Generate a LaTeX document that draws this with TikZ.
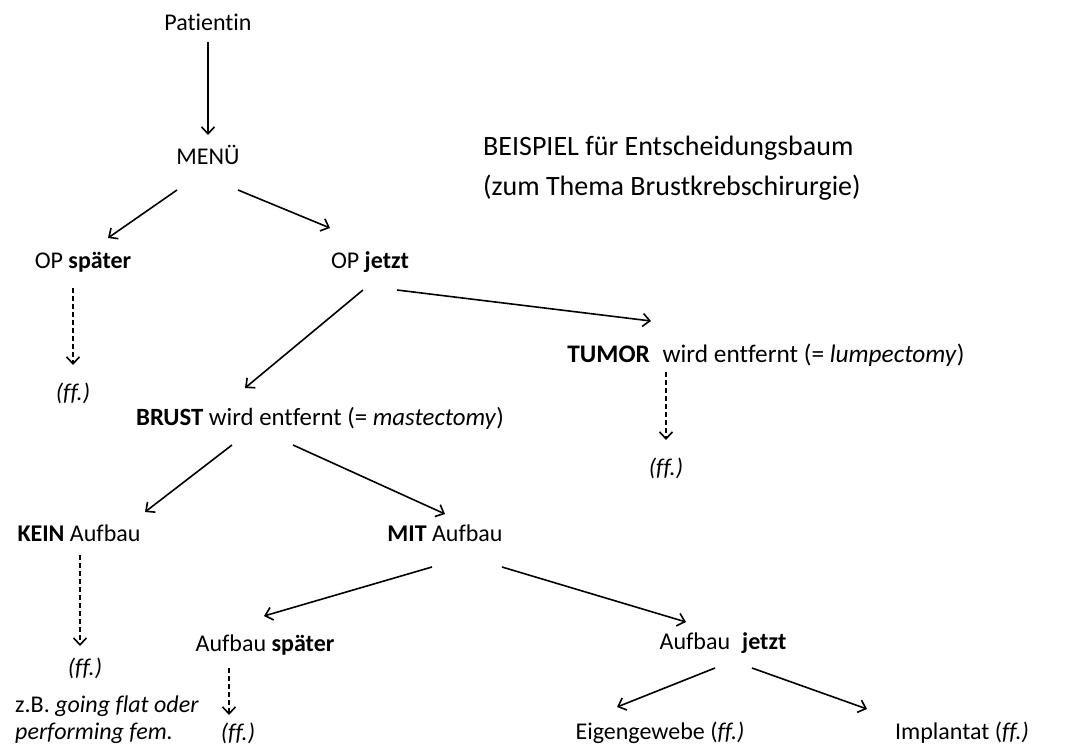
\documentclass[tikz,border=0pt]{standalone}
\usepackage{fontspec}
\setmainfont[Ligatures=NoCommon]{Carlito}
\usetikzlibrary{calc,arrows.meta}
\begin{document}
\begin{tikzpicture}[x=1pt,y=-1pt,
  lbl/.style={inner sep=0pt,font=\fontsize{24}{28}\selectfont},
  arr/.style={line width=1.6pt,-{Straight Barb[length=7pt,width=13pt,line width=1.6pt]}},
  darr/.style={arr,dash pattern=on 5pt off 3pt}]
\useasboundingbox (0,0) rectangle (1070,749);
\node[lbl] (pat) at (208,22) {Patientin};
\node[lbl] (menu) at (208,155) {MENÜ};
\node[lbl,anchor=west,align=left,font=\fontsize{28}{40}\selectfont] (title) at (483,168) {BEISPIEL für Entscheidungsbaum\\(zum Thema Brustkrebschirurgie)};
\node[lbl] (opl) at (83,262) {OP \textbf{später}};
\node[lbl] (opj) at (370,262) {OP \textbf{jetzt}};
\node[lbl] (ff1) at (73,393) {\textit{(ff.)}};
\node[lbl,font=\fontsize{24.8}{28}\selectfont] (brust) at (320,418) {\textbf{BRUST} wird entfernt (= \textit{mastectomy})};
\node[lbl,font=\fontsize{25.3}{28}\selectfont] (tumor) at (766,355) {\textbf{TUMOR}\enspace wird entfernt (= \textit{lumpectomy})};
\node[lbl] (ff2) at (666,468) {\textit{(ff.)}};
\node[lbl] (kein) at (79,533) {\textbf{KEIN} Aufbau};
\node[lbl] (mit) at (445,533) {\textbf{MIT} Aufbau};
\node[lbl] (ff3) at (85,668) {\textit{(ff.)}};
\node[lbl,anchor=west,align=left,font=\fontsize{24}{27}\selectfont] (zb) at (15,720) {z.B. \textit{going flat oder}\\\textit{performing fem.}};
\node[lbl] (asp) at (265,645) {Aufbau \textbf{später}};
\node[lbl] (ff4) at (238,733) {\textit{(ff.)}};
\node[lbl] (aj) at (723,643) {Aufbau\enspace\textbf{jetzt}};
\node[lbl] (eigen) at (660,733) {Eigengewebe (\textit{ff.)}};
\node[lbl] (impl) at (962,733) {Implantat (\textit{ff.)}};

\draw[arr] ($(pat)+(0,20)$) -- ($(menu)+(0,-20)$);
\draw[arr] ($(menu)+(-31,35)$) -- ($(opl)+(25,-24)$);
\draw[arr] ($(menu)+(30,35)$) -- ($(opj)+(-40,-34)$);
\draw[darr] ($(opl)+(-10,26)$) -- ($(ff1)+(0,-28)$);
\draw[arr] ($(opj)+(-7,28)$) -- ($(brust)+(-75,-30)$);
\draw[arr] ($(opj)+(27,28)$) -- ($(tumor)+(-115,-34)$);
\draw[darr] ($(tumor)+(-100,17)$) -- ($(ff2)+(0,-28)$);
\draw[arr] ($(brust)+(-88,27)$) -- ($(kein)+(66,-21)$);
\draw[arr] ($(brust)+(-27,27)$) -- ($(mit)+(0,-19)$);
\draw[darr] ($(kein)+(1,22)$) -- ($(ff3)+(-5,-22)$);
\draw[arr] ($(mit)+(-13,34)$) -- ($(asp)+(-1,-29)$);
\draw[arr] ($(mit)+(57,34)$) -- ($(aj)+(-37,-21)$);
\draw[darr] ($(asp)+(-36,23)$) -- ($(ff4)+(-9,-18)$);
\draw[arr] ($(aj)+(-8,25)$) -- ($(eigen)+(-43,-26)$);
\draw[arr] ($(aj)+(29,25)$) -- ($(impl)+(-95,-24)$);
\end{tikzpicture}
\end{document}
